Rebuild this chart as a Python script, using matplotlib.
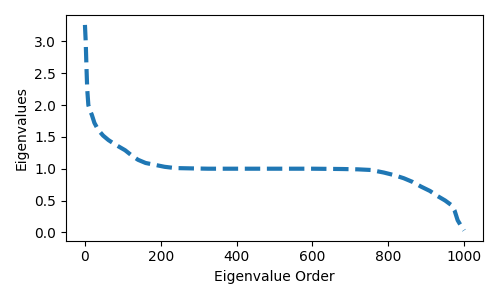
import matplotlib
matplotlib.use("Agg")
import matplotlib.pyplot as plt

order = [0, 2, 4, 6, 9, 13, 18, 25, 35, 48, 62, 80, 106, 125, 140, 160, 185, 210, 238, 280,
         325, 400, 500, 600, 680, 720, 754, 788, 815, 841, 865, 886, 910, 930, 950, 966, 975,
         983, 992, 1000]
eigenvalues = [3.26, 3.0, 2.6, 2.25, 2.0, 1.92, 1.85, 1.72, 1.61, 1.52, 1.45, 1.38, 1.29, 1.2,
               1.14, 1.09, 1.06, 1.03, 1.01, 1.005, 1.0, 1.0, 1.0, 1.0, 0.995, 0.99, 0.98, 0.94,
               0.9, 0.85, 0.79, 0.72, 0.65, 0.57, 0.5, 0.43, 0.34, 0.19, 0.1, 0.03]

fig = plt.figure(figsize=(4.98, 2.99), dpi=100)
ax = fig.add_axes([0.1325, 0.195, 0.8375, 0.756])
ax.plot(order, eigenvalues, linestyle="--", linewidth=3, color="#1f77b4")
ax.set_xlabel("Eigenvalue Order")
ax.set_ylabel("Eigenvalues")
ax.set_xticks([0, 200, 400, 600, 800, 1000])
ax.set_yticks([0.0, 0.5, 1.0, 1.5, 2.0, 2.5, 3.0])
fig.savefig("out.png", dpi=100)
